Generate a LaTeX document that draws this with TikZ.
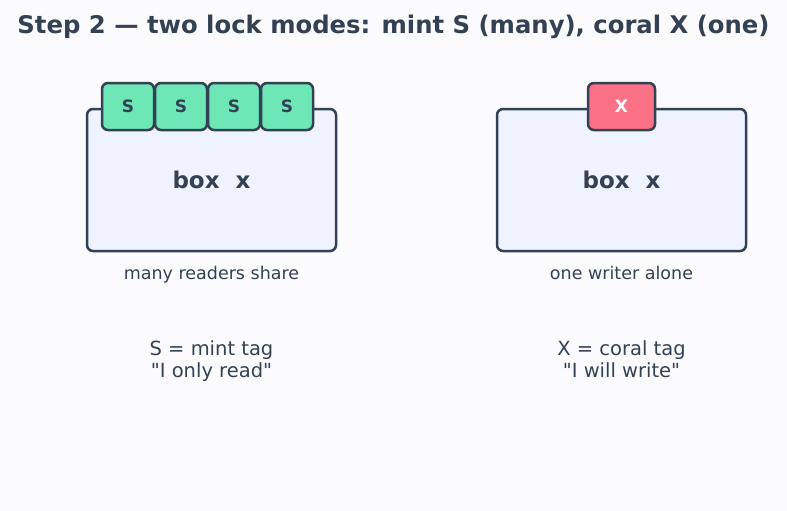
\documentclass[tikz,border=0pt]{standalone}
\usepackage{fontspec}
\setmainfont{DejaVu Sans}[Ligatures=TeXOff]
\usetikzlibrary{positioning}

\definecolor{ink}{HTML}{334155}
\definecolor{paper}{HTML}{FBFBFE}
\definecolor{boxfill}{HTML}{EEF3FF}
\definecolor{mint}{HTML}{6EE7B7}
\definecolor{coral}{HTML}{FB7185}

\tikzset{
  lockbox/.style={draw=ink, fill=boxfill, line width=2.5pt, rounded corners=6pt,
    minimum width=249pt, minimum height=142pt, inner sep=0pt},
  tagS/.style={draw=ink, fill=mint, line width=2.5pt, rounded corners=6pt,
    minimum width=52pt, minimum height=47pt, inner sep=0pt, text=ink,
    font=\bfseries\fontsize{17}{20}\selectfont},
  tagX/.style={tagS, fill=coral, text=white, minimum width=67pt},
  boxlabel/.style={text=ink, anchor=base, font=\bfseries\fontsize{23}{26}\selectfont},
  caption/.style={text=ink, anchor=base, font=\fontsize{17.5}{20}\selectfont},
  legend/.style={text=ink, align=center, font=\fontsize{19.5}{22}\selectfont},
}

\begin{document}
\begin{tikzpicture}[x=1pt, y=-1pt]
\fill[paper] (0,0) rectangle (787,511);
\useasboundingbox (0,0) rectangle (787,511);

\node[text=ink, anchor=base, font=\bfseries\fontsize{24.3}{28}\selectfont] (title) at (393.5,34)
  {Step 2 — two lock modes: mint S (many), coral X (one)};

% shared lock
\node[lockbox] (boxS) at (211.5,180) {};
\node[boxlabel] (labS) at (211.5,188) {box\ \ x};
\foreach \i/\x in {1/128, 2/181, 3/234, 4/287}
  \node[tagS] (s\i) at (\x,106.5) {S};
\node[caption] (capS) at (211.5,279) {many readers share};
\node[legend, anchor=north] (legS) at (211.5,337) {S = mint tag\\"I only read"};

% exclusive lock
\node[lockbox] (boxX) at (621.5,180) {};
\node[boxlabel] (labX) at (621.5,188) {box\ \ x};
\node[tagX] (x1) at (621.5,106.5) {X};
\node[caption] (capX) at (621.5,279) {one writer alone};
\node[legend, anchor=north] (legX) at (621.5,337) {X = coral tag\\"I will write"};
\end{tikzpicture}
\end{document}
